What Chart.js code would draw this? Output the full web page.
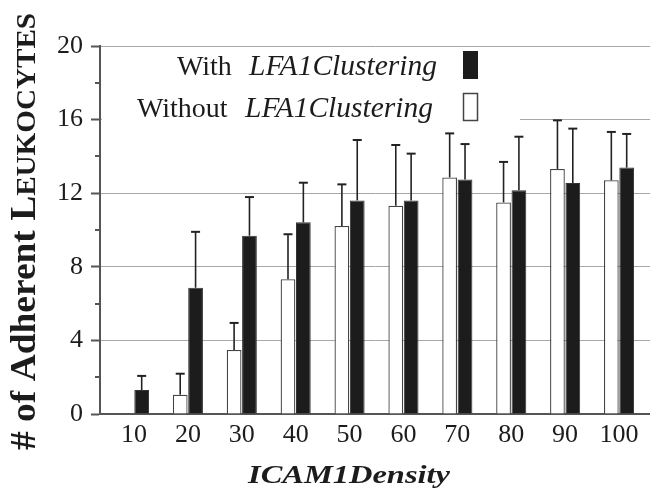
<!DOCTYPE html>
<html>
<head>
<meta charset="utf-8">
<script src="https://cdn.jsdelivr.net/npm/chart.js@4"></script>
<style>
  html, body { margin: 0; padding: 0; background: #fff; }
  #wrap { width: 650px; height: 493px; }
</style>
</head>
<body>
<div id="wrap"><canvas id="c" width="650" height="493"></canvas></div>
<script>
// ICAM1 density levels on the x axis
const densities = [10, 20, 30, 40, 50, 60, 70, 80, 90, 100];

// Mean number of adherent leukocytes without LFA1 clustering (open bars)
const withoutMeans = [0, 1.05, 3.48, 7.32, 10.22, 11.32, 12.86, 11.50, 13.32, 12.70];
// Upper error (SD) for the open bars
const withoutSD    = [0, 1.14, 1.47, 2.45, 2.26, 3.30, 2.39, 2.20, 2.64, 2.63];

// Mean number of adherent leukocytes with LFA1 clustering (filled bars)
const withMeans = [1.30, 6.86, 9.69, 10.42, 11.61, 11.61, 12.75, 12.16, 12.55, 13.39];
// Upper error (SD) for the filled bars
const withSD    = [0.77, 3.04, 2.10, 2.15, 3.28, 2.54, 1.92, 2.91, 2.96, 1.83];

// Y-axis tick values
const yTicks = [0, 4, 8, 12, 16, 20];
const yMinorTicks = [2, 6, 10, 14, 18];

const SERIF = '"Liberation Serif", "Times New Roman", serif';
const INK = '#1c1c1c';
const AXIS = '#555';
const GRID = '#a8a8a8';

const toPoints = (vals) => vals.map((v, i) => ({ x: densities[i], y: v }));

// Error bars, minor ticks, legend and axis titles
const annotate = {
  id: 'annotate',
  afterDatasetsDraw(chart) {
    const ctx = chart.ctx;
    const ys = chart.scales.y;
    chart.data.datasets.forEach((ds, di) => {
      const meta = chart.getDatasetMeta(di);
      meta.data.forEach((bar, i) => {
        const sd = ds.sd[i];
        if (!sd) return;
        const top = ys.getPixelForValue(ds.data[i].y + sd);
        ctx.save();
        ctx.strokeStyle = '#222';
        ctx.lineWidth = 1.6;
        ctx.beginPath();
        ctx.moveTo(bar.x, bar.y);
        ctx.lineTo(bar.x, top);
        ctx.stroke();
        ctx.lineWidth = 2;
        ctx.beginPath();
        ctx.moveTo(bar.x - 4.5, top);
        ctx.lineTo(bar.x + 4.5, top);
        ctx.stroke();
        ctx.restore();
      });
    });
  },
  afterDraw(chart) {
    const ctx = chart.ctx;
    const ys = chart.scales.y;
    const left = chart.chartArea.left;

    // minor ticks on the y axis
    ctx.save();
    ctx.strokeStyle = AXIS;
    ctx.lineWidth = 2;
    yMinorTicks.forEach(v => {
      const py = Math.round(ys.getPixelForValue(v));
      ctx.beginPath();
      ctx.moveTo(left - 5, py);
      ctx.lineTo(left, py);
      ctx.stroke();
    });
    ctx.restore();

    // legend panel
    ctx.save();
    ctx.fillStyle = '#fff';
    ctx.fillRect(left + 2, 50, 418, 78);
    ctx.fillStyle = INK;
    ctx.textBaseline = 'alphabetic';
    ctx.font = '28px ' + SERIF;
    ctx.fillText('With', 177, 75);
    ctx.fillText('Without', 137, 117);
    ctx.font = 'italic 29.5px ' + SERIF;
    ctx.fillText('LFA1Clustering', 249, 75);
    ctx.fillText('LFA1Clustering', 245, 117);
    ctx.fillStyle = INK;
    ctx.fillRect(463, 51, 15, 28);
    ctx.fillStyle = '#fff';
    ctx.fillRect(463, 93, 15, 28);
    ctx.strokeStyle = '#444';
    ctx.lineWidth = 1.5;
    ctx.strokeRect(463.5, 93.5, 14, 27);
    ctx.restore();

    // y-axis title with small capitals
    ctx.save();
    ctx.fillStyle = INK;
    ctx.textBaseline = 'alphabetic';
    ctx.translate(35, 450);
    ctx.rotate(-Math.PI / 2);
    const big = 'bold 36px ' + SERIF;
    const small = 'bold 28px ' + SERIF;
    ctx.font = big;
    const w1 = ctx.measureText('# of Adherent ').width;
    const w2 = ctx.measureText('L').width;
    ctx.font = small;
    const w3 = ctx.measureText('EUKOCYTES').width;
    const s = 437 / (w1 + w2 + w3);
    ctx.scale(s, 1);
    ctx.font = big;
    ctx.fillText('# of Adherent ', 0, 0);
    ctx.fillText('L', w1, 0);
    ctx.font = small;
    ctx.fillText('EUKOCYTES', w1 + w2, 0);
    ctx.restore();

    // x-axis title
    ctx.save();
    ctx.fillStyle = INK;
    ctx.textBaseline = 'alphabetic';
    ctx.font = 'bold italic 25px ' + SERIF;
    const wx = ctx.measureText('ICAM1Density').width;
    ctx.translate(248, 483);
    ctx.scale(202 / wx, 1);
    ctx.fillText('ICAM1Density', 0, 0);
    ctx.restore();
  }
};

new Chart(document.getElementById('c'), {
  type: 'bar',
  data: {
    datasets: [
      {
        label: 'Without LFA1Clustering',
        data: toPoints(withoutMeans),
        sd: withoutSD,
        backgroundColor: '#fff',
        borderColor: '#444',
        borderWidth: 1.3,
        borderSkipped: 'start'
      },
      {
        label: 'With LFA1Clustering',
        data: toPoints(withMeans),
        sd: withSD,
        backgroundColor: INK,
        borderColor: '#333',
        borderWidth: 1,
        borderSkipped: 'start'
      }
    ]
  },
  options: {
    responsive: false,
    animation: false,
    devicePixelRatio: 1,
    categoryPercentage: 0.57,
    barPercentage: 0.96,
    layout: { padding: { top: 46, left: 0, right: 0, bottom: 0 } },
    plugins: { legend: { display: false }, tooltip: { enabled: false } },
    scales: {
      x: {
        type: 'linear',
        offset: false,
        min: 3.69,
        max: 105.75,
        afterBuildTicks: (scale) => { scale.ticks = densities.map(v => ({ value: v })); },
        afterFit: (scale) => { scale.height = 79; },
        grid: { display: false, drawTicks: false, offset: false },
        border: { display: true, color: AXIS, width: 2 },
        ticks: {
          font: { family: SERIF, size: 26 },
          color: INK,
          padding: 6,
          maxRotation: 0,
          autoSkip: false,
          callback: (v) => String(v)
        }
      },
      y: {
        min: 0,
        max: 20,
        afterBuildTicks: (scale) => { scale.ticks = yTicks.map(v => ({ value: v })); },
        afterFit: (scale) => { scale.width = 100; },
        grid: {
          color: (c) => (c.tick && c.tick.value === 0) ? 'rgba(0,0,0,0)' : GRID,
          lineWidth: 1,
          tickLength: 9,
          tickColor: AXIS,
          tickWidth: 2
        },
        border: { display: true, color: AXIS, width: 2 },
        ticks: {
          font: { family: SERIF, size: 26 },
          color: INK,
          padding: 8,
          callback: (v) => String(v)
        }
      }
    }
  },
  plugins: [annotate]
});
</script>
</body>
</html>
